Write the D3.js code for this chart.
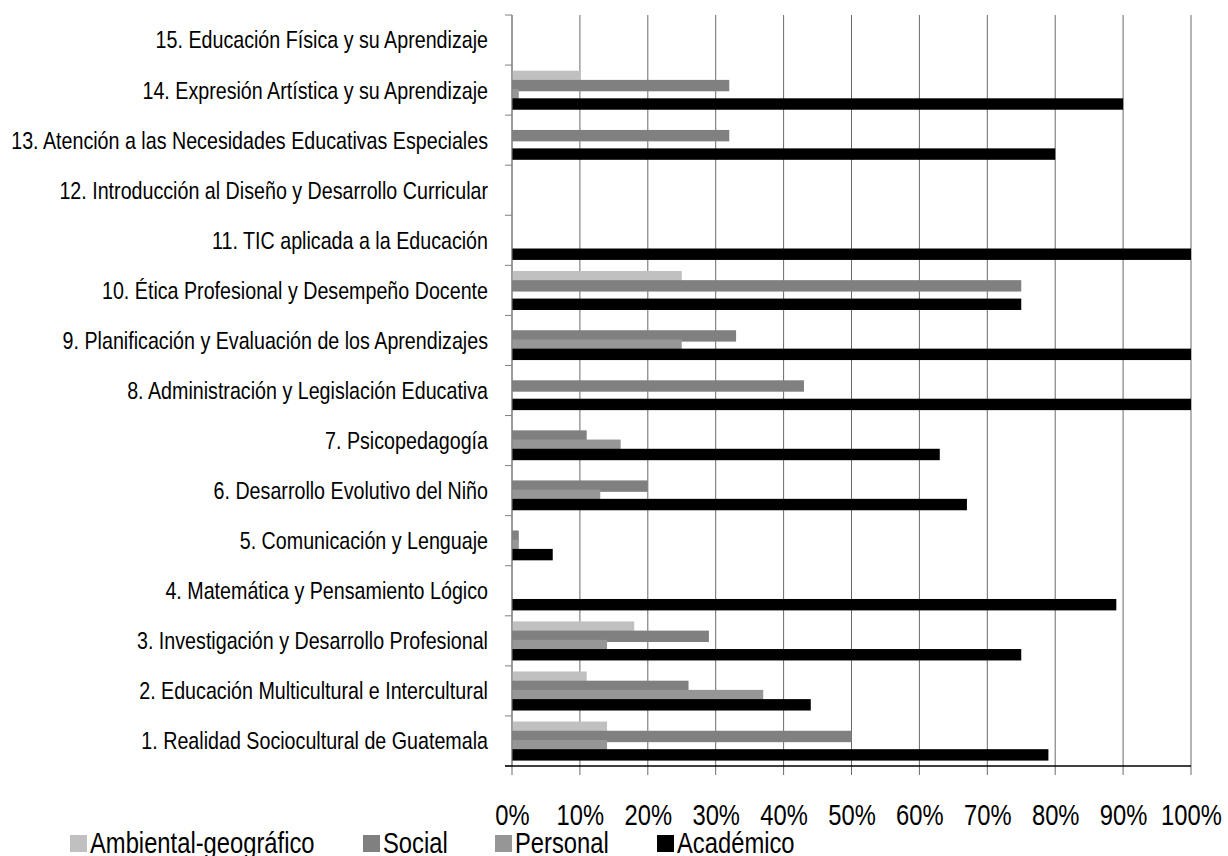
<!DOCTYPE html>
<html>
<head>
<meta charset="utf-8">
<script src="https://cdn.jsdelivr.net/npm/d3@7"></script>
<style>
  html, body { margin: 0; padding: 0; background: #ffffff; }
  svg { display: block; }
  text { font-family: "Liberation Sans", Arial, sans-serif; fill: #000; }
</style>
</head>
<body>
<svg id="chart" width="1228" height="856"></svg>
<script>
// Asignaturas (de abajo hacia arriba en el gráfico)
const categories = [
  "1. Realidad Sociocultural de Guatemala",
  "2. Educación Multicultural e Intercultural",
  "3. Investigación y Desarrollo Profesional",
  "4. Matemática y Pensamiento Lógico",
  "5. Comunicación y Lenguaje",
  "6. Desarrollo Evolutivo del Niño",
  "7. Psicopedagogía",
  "8. Administración y Legislación Educativa",
  "9. Planificación y Evaluación de los Aprendizajes",
  "10. Ética Profesional y Desempeño Docente",
  "11. TIC aplicada a la Educación",
  "12. Introducción al Diseño y Desarrollo Curricular",
  "13. Atención a las Necesidades Educativas Especiales",
  "14. Expresión Artística y su Aprendizaje",
  "15. Educación Física y su Aprendizaje"
];

// Porcentaje por ámbito, en el mismo orden que las asignaturas
const ambiental = [14, 11, 18, 0, 0, 0, 0, 0, 0, 25, 0, 0, 0, 10, 0];
const social    = [50, 26, 29, 0, 1, 20, 11, 43, 33, 75, 0, 0, 32, 32, 0];
const personal  = [14, 37, 14, 0, 1, 13, 16, 0, 25, 0, 0, 0, 0, 1, 0];
const academico = [79, 44, 75, 89, 6, 67, 63, 100, 100, 75, 100, 0, 80, 90, 0];

const seriesNames = ["Ambiental-geográfico", "Social", "Personal", "Académico"];
const seriesColors = ["#c0c0c0", "#808080", "#969696", "#000000"];
const seriesValues = [ambiental, social, personal, academico];

const tickValues = [0, 10, 20, 30, 40, 50, 60, 70, 80, 90, 100];

// Letra estrecha: Liberation Sans comprimida horizontalmente
const NARROW = 0.82;

const svg = d3.select("#chart");
const plot = { left: 512, right: 1191, top: 15, bottom: 766 };

const x = d3.scaleLinear().domain([0, 100]).range([plot.left, plot.right]);
const y = d3.scaleBand()
  .domain(categories.slice().reverse())
  .range([plot.top, plot.bottom])
  .padding(0);
const bw = y.bandwidth();

// Posición de cada serie dentro de su banda (barras ligeramente superpuestas)
const inner = d3.scaleLinear().domain([0, 3]).range([bw * 0.112, bw * 0.112 + 3 * bw * 0.184]);
const barH = bw * 0.228;

// Líneas de cuadrícula verticales (se prolongan bajo el eje como marcas)
svg.append("g")
  .selectAll("line")
  .data(tickValues)
  .join("line")
  .attr("x1", d => x(d)).attr("x2", d => x(d))
  .attr("y1", plot.top).attr("y2", plot.bottom + 9)
  .attr("stroke", "#6a6a6a")
  .attr("stroke-width", 1);

// Barras
seriesValues.forEach((vals, s) => {
  svg.append("g")
    .selectAll("rect")
    .data(categories.map((c, i) => ({ c, v: vals[i] })).filter(d => d.v > 0))
    .join("rect")
    .attr("x", x(0))
    .attr("y", d => y(d.c) + inner(s))
    .attr("width", d => x(d.v) - x(0))
    .attr("height", barH)
    .attr("fill", seriesColors[s]);
});

// Eje vertical con marcas en los límites de cada banda
const boundaries = d3.range(categories.length + 1).map(i => plot.top + i * bw);
svg.append("line")
  .attr("x1", x(0)).attr("x2", x(0))
  .attr("y1", plot.top).attr("y2", plot.bottom)
  .attr("stroke", "#808080").attr("stroke-width", 1);
svg.append("g")
  .selectAll("line")
  .data(boundaries)
  .join("line")
  .attr("x1", x(0) - 7).attr("x2", x(0))
  .attr("y1", d => d).attr("y2", d => d)
  .attr("stroke", "#808080").attr("stroke-width", 1);

// Eje horizontal
svg.append("line")
  .attr("x1", x(0) - 7).attr("x2", x(100))
  .attr("y1", plot.bottom).attr("y2", plot.bottom)
  .attr("stroke", "#000").attr("stroke-width", 1.5);

// Etiquetas de asignaturas
svg.append("g")
  .selectAll("text")
  .data(categories)
  .join("text")
  .attr("transform", d => `translate(488, ${y(d) + bw / 2}) scale(${NARROW}, 1)`)
  .attr("dy", "0.35em")
  .attr("text-anchor", "end")
  .attr("font-size", 24)
  .text(d => d);

// Etiquetas del eje X
const xAxis = d3.axisBottom(x).tickValues(tickValues).tickSize(0).tickFormat(d => d + "%");
const gx = svg.append("g")
  .attr("transform", `translate(0, ${plot.bottom})`)
  .call(xAxis);
gx.select(".domain").remove();
gx.attr("font-family", null).attr("font-size", null);
gx.selectAll("text")
  .attr("y", 59)
  .attr("dy", 0)
  .attr("font-size", 29)
  .attr("fill", "#000")
  .attr("transform", `scale(${NARROW}, 1)`);

// Leyenda
const legendX = [70, 363, 495, 657];
const legend = svg.append("g");
seriesNames.forEach((name, s) => {
  legend.append("rect")
    .attr("x", legendX[s]).attr("y", 835)
    .attr("width", 17).attr("height", 17)
    .attr("fill", seriesColors[s]);
  legend.append("text")
    .attr("transform", `translate(${legendX[s] + 20}, 853) scale(${NARROW}, 1)`)
    .attr("font-size", 29)
    .text(name);
});
</script>
</body>
</html>
